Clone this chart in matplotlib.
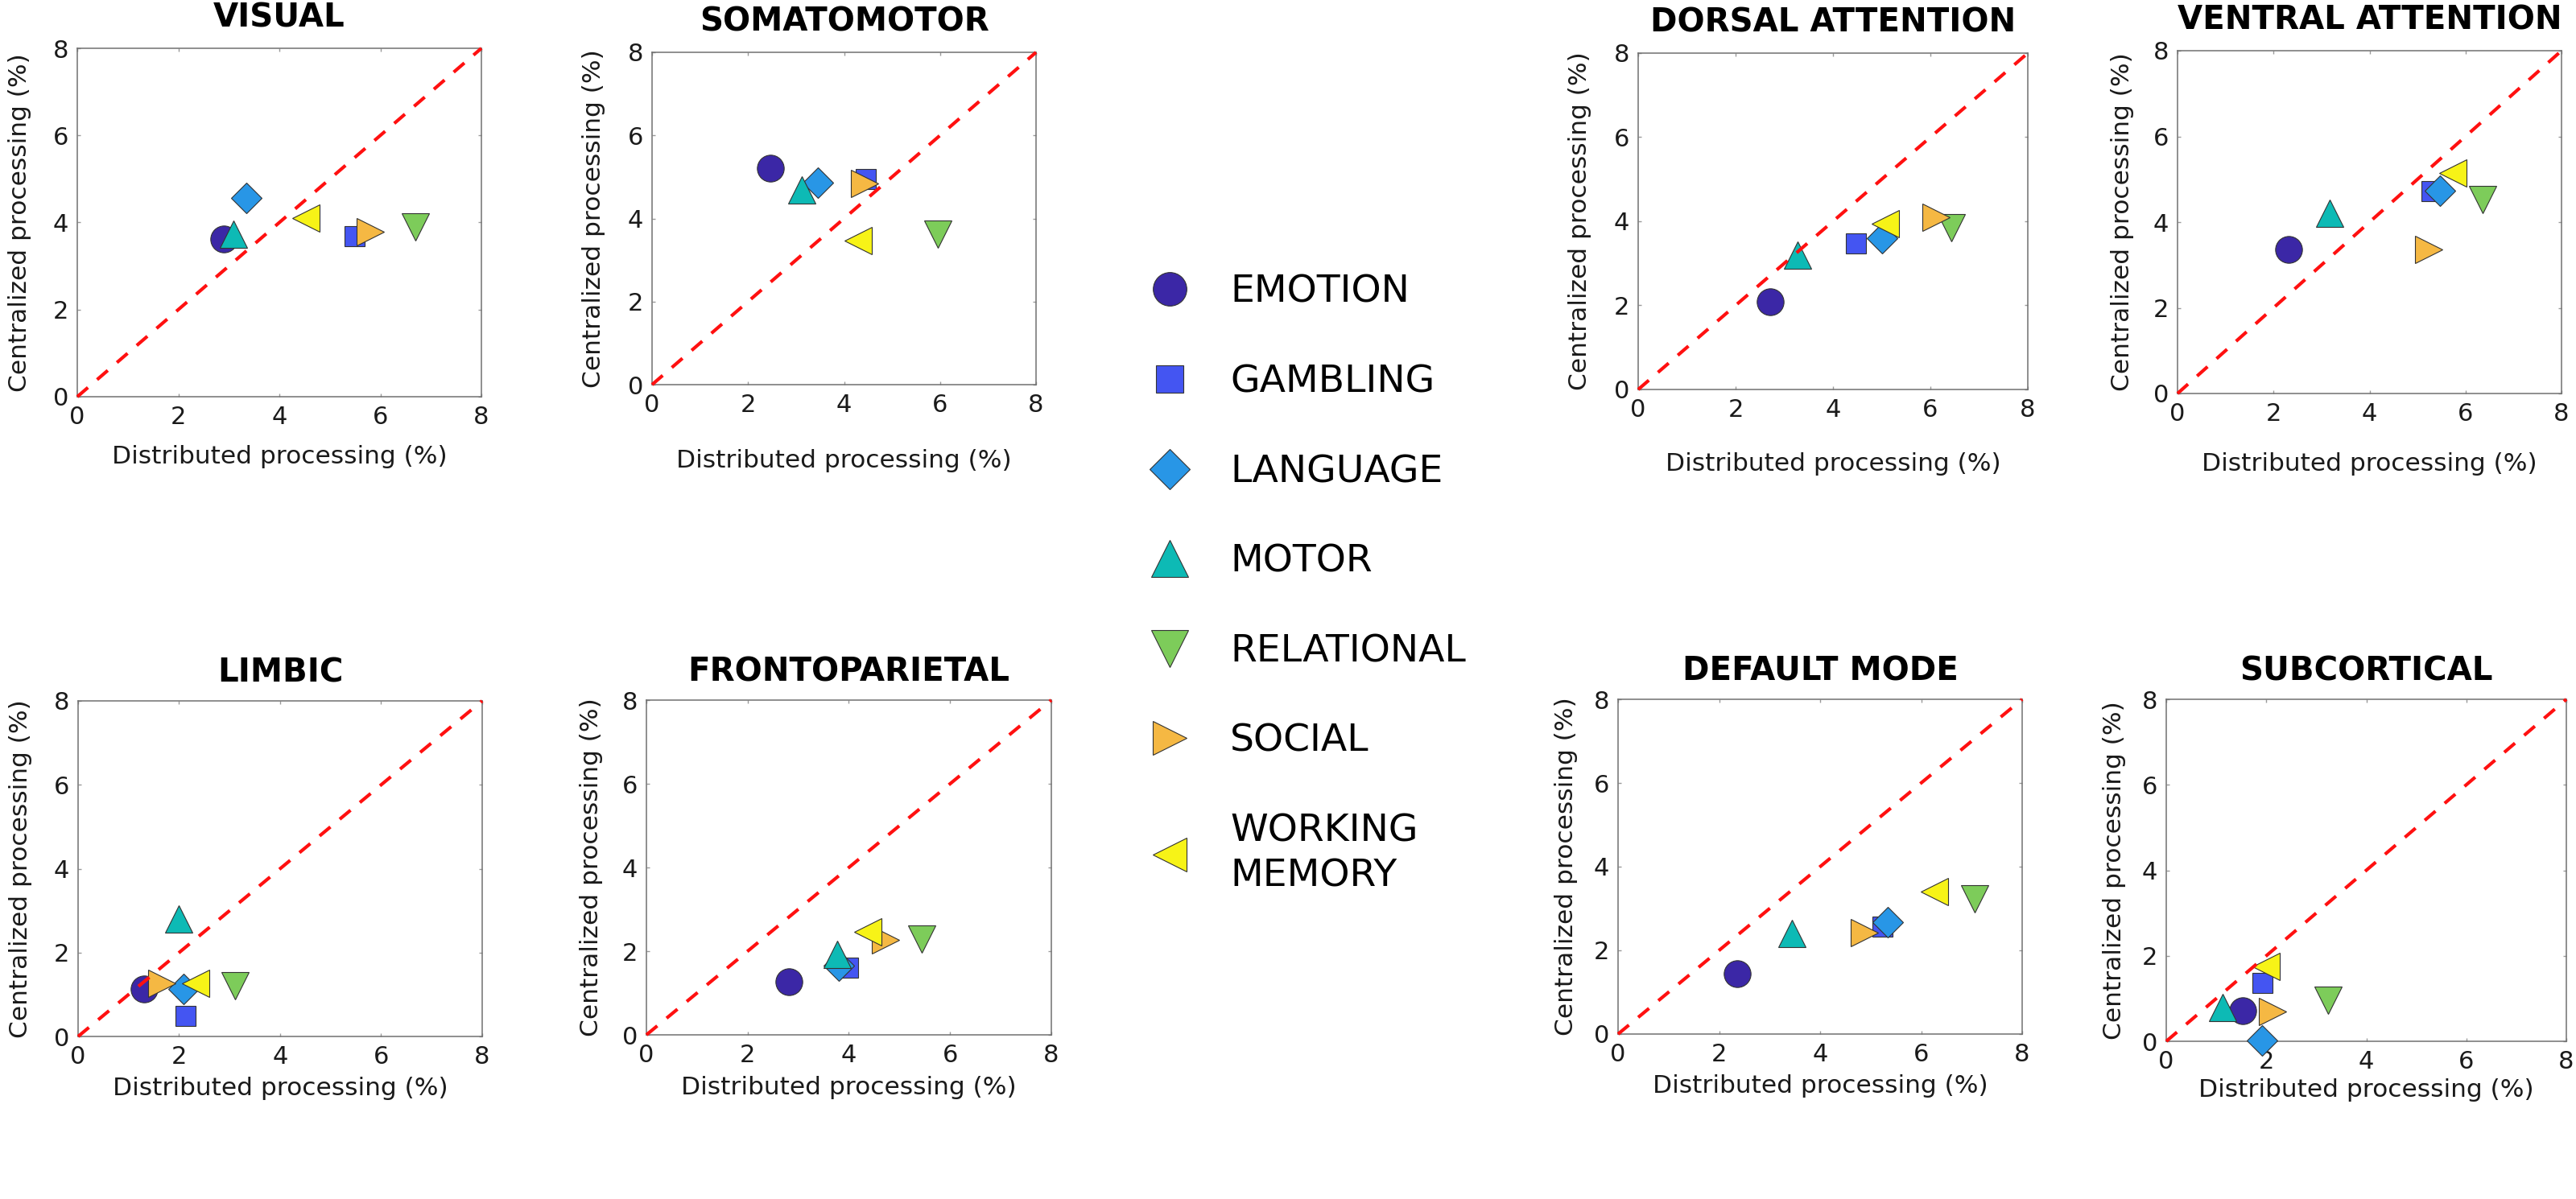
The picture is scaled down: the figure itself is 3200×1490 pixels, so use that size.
import matplotlib
matplotlib.use("Agg")
import matplotlib.pyplot as plt
from matplotlib.lines import Line2D

plt.rcParams['font.family'] = 'DejaVu Sans'

# networks (panel order) and tasks
networks = ["VISUAL", "SOMATOMOTOR", "DORSAL ATTENTION", "VENTRAL ATTENTION",
            "LIMBIC", "FRONTOPARIETAL", "DEFAULT MODE", "SUBCORTICAL"]
task_names = ["EMOTION", "GAMBLING", "LANGUAGE", "MOTOR", "RELATIONAL", "SOCIAL",
              "WORKING\nMEMORY"]

# distributed (x) / centralized (y) processing, %, one value per network
dist_emotion = [2.90, 2.47, 2.71, 2.31, 1.31, 2.81, 2.36, 1.53]
cent_emotion = [3.62, 5.22, 2.09, 3.36, 1.13, 1.27, 1.44, 0.71]
dist_gambling = [5.48, 4.44, 4.47, 5.29, 2.12, 3.98, 5.23, 1.91]
cent_gambling = [3.69, 4.96, 3.49, 4.74, 0.49, 1.61, 2.57, 1.38]
dist_language = [3.35, 3.45, 5.01, 5.46, 2.08, 3.80, 5.34, 1.91]
cent_language = [4.56, 4.86, 3.60, 4.74, 1.13, 1.65, 2.67, 0.02]
dist_motor = [3.09, 3.12, 3.27, 3.17, 1.99, 3.77, 3.45, 1.12]
cent_motor = [3.73, 4.69, 3.19, 4.21, 2.81, 1.93, 2.40, 0.79]
dist_relational = [6.69, 5.96, 6.43, 6.36, 3.10, 5.44, 7.06, 3.24]
cent_relational = [3.89, 3.63, 3.84, 4.53, 1.20, 2.28, 3.23, 0.96]
dist_social = [5.80, 4.42, 6.11, 5.23, 1.66, 4.72, 4.87, 2.13]
cent_social = [3.78, 4.84, 4.10, 3.36, 1.27, 2.26, 2.43, 0.70]
dist_wm = [4.53, 4.29, 5.07, 5.74, 2.32, 4.37, 6.27, 1.99]
cent_wm = [4.10, 3.47, 3.94, 5.14, 1.27, 2.46, 3.40, 1.75]

dist = [dist_emotion, dist_gambling, dist_language, dist_motor,
        dist_relational, dist_social, dist_wm]
cent = [cent_emotion, cent_gambling, cent_language, cent_motor,
        cent_relational, cent_social, cent_wm]

colors = ["#3B27A6", "#4455F2", "#2896E6", "#0DBAB5", "#7DCC5A", "#F5B843", "#F7F317"]
markers = ["o", "s", "D", "^", "v", ">", "<"]
msizes = [24, 18, 19, 25, 25, 25, 25]
leg_msizes = [30, 24, 25, 33, 33, 30, 30]

W, H = 3200, 1490
fig = plt.figure(figsize=(W / 100, H / 100), dpi=100)

# axes boxes in pixels: left, right, top, bottom
boxes = [(96, 598, 60, 493), (810, 1287, 65, 478), (2035, 2519, 66, 484), (2705, 3182, 63, 489),
         (97, 599, 871, 1288), (803, 1306, 870, 1286), (2010, 2512, 869, 1285), (2691, 3188, 869, 1294)]
xpads = [14, 29, 27, 24, 7, 8, 7, 4]
ypads = [19, 20, 20, 17, 19, 17, 14, 14]

for k, name in enumerate(networks):
    l, r, t, b = boxes[k]
    ax = fig.add_axes([l / W, 1 - b / H, (r - l) / W, (b - t) / H])
    for i in range(len(task_names)):
        ax.plot(dist[i][k], cent[i][k], ls="none", marker=markers[i], ms=msizes[i],
                mfc=colors[i], mec="#333333", mew=0.8, zorder=3, clip_on=False)
    ax.plot([0, 8], [0, 8], color="#FF1010", lw=3.0, ls=(0, (4.2, 3.6)), zorder=5, clip_on=False)
    ax.set_xlim(0, 8)
    ax.set_ylim(0, 8)
    ax.set_xticks([0, 2, 4, 6, 8])
    ax.set_yticks([0, 2, 4, 6, 8])
    ax.tick_params(direction="in", length=3, width=1, color="#9a9a9a", labelcolor="#1a1a1a",
                   labelsize=22, top=True, right=True)
    ax.tick_params(axis="x", pad=8)
    ax.tick_params(axis="y", pad=8)
    for sp in ax.spines.values():
        sp.set_color("#707070")
        sp.set_linewidth(1.1)
    ax.set_xlabel("Distributed processing (%)", fontsize=22.5, color="#1a1a1a", labelpad=xpads[k])
    ax.set_ylabel("Centralized processing (%)", fontsize=22.5, color="#1a1a1a", labelpad=ypads[k])
    ax.set_title(name, fontsize=29, fontweight="bold", pad=19 if k < 4 else 17)

handles = [Line2D([], [], ls="none", marker=markers[i], ms=leg_msizes[i], mfc=colors[i],
                  mec="#333333", mew=0.8) for i in range(len(task_names))]
leg = fig.legend(handles, task_names, loc="upper left",
                 bbox_to_anchor=(1415 / W, 1 - 341 / H), frameon=False,
                 fontsize=34, handlelength=1.6, handletextpad=0.8, labelspacing=1.41,
                 borderpad=0, borderaxespad=0)
for txt in leg.get_texts():
    txt.set_linespacing(1.3)

fig.savefig("out.png", dpi=100)
